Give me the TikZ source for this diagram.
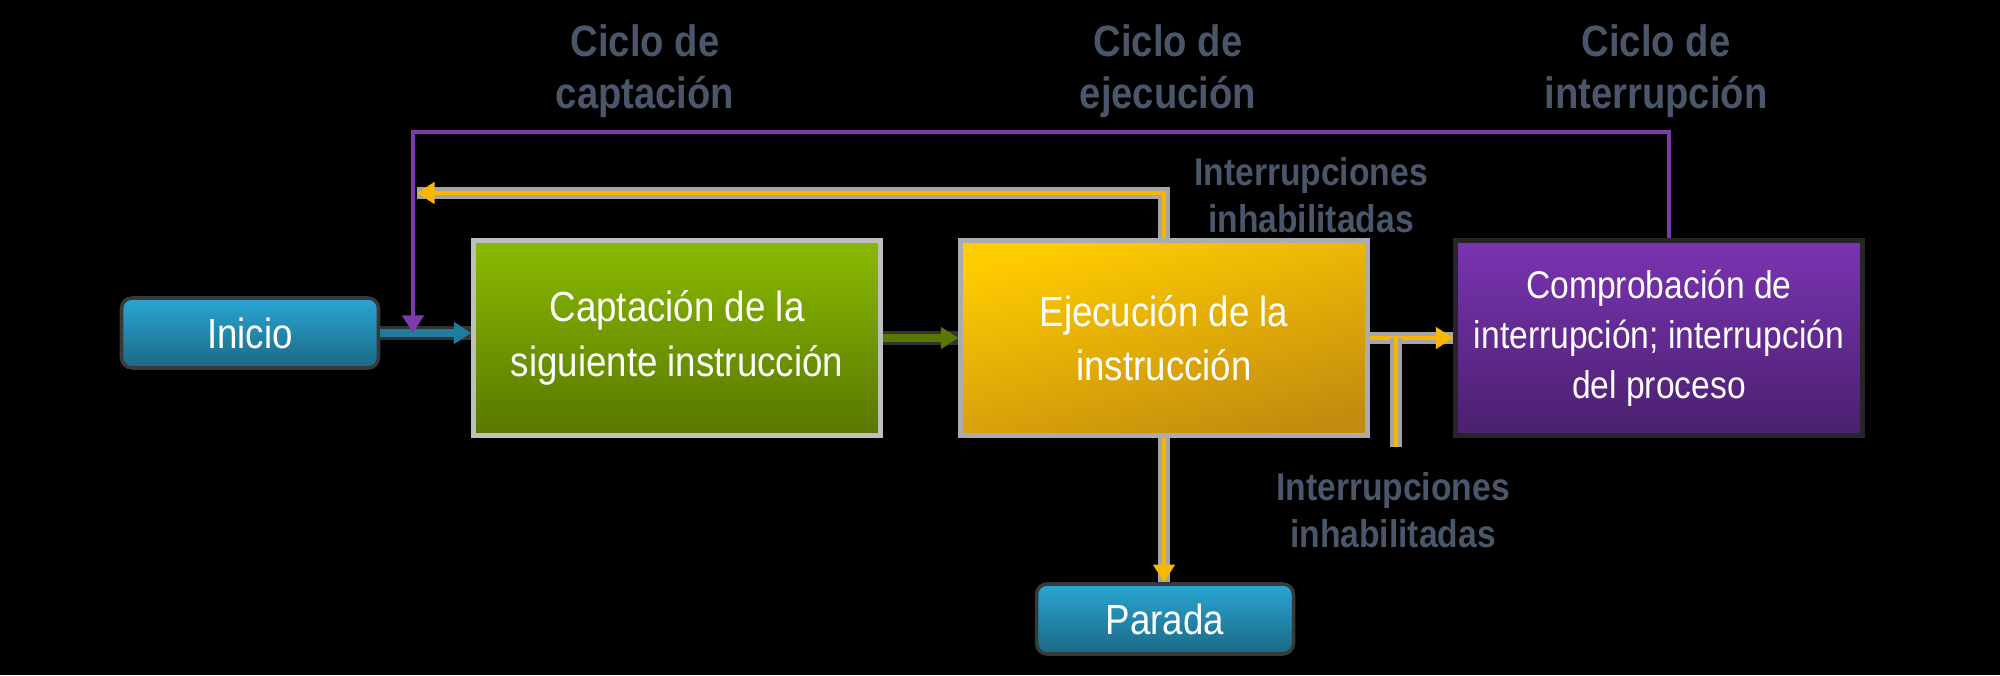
\documentclass[tikz,border=0pt]{standalone}
\usepackage{fontspec}
\setmainfont{Liberation Sans}[FakeStretch=0.87]
\usetikzlibrary{arrows.meta}

\definecolor{tealtop}{RGB}{42,166,212}
\definecolor{tealbot}{RGB}{27,104,132}
\definecolor{greentop}{RGB}{138,186,0}
\definecolor{greenbot}{RGB}{88,118,0}
\definecolor{goldtop}{RGB}{255,204,0}
\definecolor{goldbot}{RGB}{196,140,14}
\definecolor{purptop}{RGB}{122,52,178}
\definecolor{purpbot}{RGB}{74,32,110}
\definecolor{tealink}{RGB}{30,124,158}
\definecolor{greenink}{RGB}{90,120,0}
\definecolor{goldink}{RGB}{246,184,0}
\definecolor{purpink}{RGB}{124,58,170}
\definecolor{slate}{RGB}{74,86,106}

\tikzstyle{terminal} = [rectangle, rounded corners=3pt, draw=gray!45!black,
  line width=1pt, top color=tealtop, bottom color=tealbot, inner sep=0pt,
  minimum width=2.57cm, minimum height=0.70cm, text=white,
  font=\fontsize{12}{15}\selectfont]
\tikzstyle{stage} = [rectangle, draw=gray!65, line width=1.2pt, inner sep=0pt,
  minimum width=4.07cm, minimum height=1.95cm, align=center, text=white,
  font=\fontsize{12}{15.5}\selectfont]
\tikzstyle{cyclelabel} = [align=center, text=slate,
  font=\fontsize{12.5}{14.7}\selectfont\bfseries]
\tikzstyle{intlabel} = [align=center, text=slate,
  font=\fontsize{11}{13.3}\selectfont\bfseries]
\tikzstyle{tealline} = [draw=tealink, line width=2pt,
  preaction={draw=gray!40!black, line width=4pt, -}]
\tikzstyle{greenline} = [draw=greenink, line width=2pt,
  preaction={draw=gray!40!black, line width=4pt, -}]
\tikzstyle{goldline} = [draw=goldink, line width=1.4pt,
  preaction={draw=gray!70, line width=3.2pt, -}]
\tikzstyle{purpleline} = [draw=purpink, line width=1.3pt]

\begin{document}
\begin{tikzpicture}
        \fill[black] (0,0) rectangle (20,6.75);
        \useasboundingbox (0,0) rectangle (20,6.75);

        \node [terminal] (inicio)       at ( 2.50,3.42) {Inicio};
        \node [stage, top color=greentop, bottom color=greenbot, draw=gray!50]
              (captacion)    at ( 6.77,3.37) {Captación de la\\siguiente instrucción};
        \node [stage, top color=goldtop, bottom color=goldbot, shading angle=15]
              (ejecucion)    at (11.64,3.37) {Ejecución de la\\instrucción};
        \node [stage, top color=purptop, bottom color=purpbot, draw=gray!30!black,
               font=\fontsize{11}{14.2}\selectfont]
              (comprobacion) at (16.59,3.37) {Comprobación de\\interrupción; interrupción\\del proceso};
        \node [terminal] (parada)       at (11.65,0.56) {Parada};

        \node [cyclelabel] (ciclocap) at ( 6.45,6.04) {Ciclo de\\captación};
        \node [cyclelabel] (cicloeje) at (11.68,6.04) {Ciclo de\\ejecución};
        \node [cyclelabel] (cicloint) at (16.56,6.04) {Ciclo de\\interrupción};
        \node [intlabel]   (intarriba) at (13.11,4.80) {Interrupciones\\inhabilitadas};
        \node [intlabel]   (intabajo)  at (13.93,1.65) {Interrupciones\\inhabilitadas};

        \coordinate (junction)     at ( 4.13,3.42);
        \coordinate (purplecorner) at ( 4.13,5.43);
        \coordinate (goldend)      at ( 4.17,4.82);
        \coordinate (branch)       at (13.96,3.37);
        \coordinate (branchend)    at (13.96,2.28);

        \draw[tealline, -{Triangle[length=5pt,width=6pt]}] (inicio.east) --
        (captacion.west |- inicio.east);
        \draw[greenline, -{Triangle[length=5pt,width=6pt]}] (captacion.east) -- (ejecucion.west);
        \draw[goldline, -{Triangle[length=5pt,width=6pt]}] (ejecucion.east) -- (comprobacion.west);
        \draw[goldline] (branch) -- (branchend);
        \draw[goldline, -{Triangle[length=5pt,width=6pt]}] (ejecucion.south) --
        (ejecucion.south |- parada.north);
        \draw[goldline, -{Triangle[length=5pt,width=6pt]}] (ejecucion.north) |- (goldend);
        \draw[purpleline, -{Triangle[length=5pt,width=6pt]}] ([xshift=1mm]comprobacion.north)
        |- (purplecorner) -- (junction);
      \end{tikzpicture}
\end{document}
